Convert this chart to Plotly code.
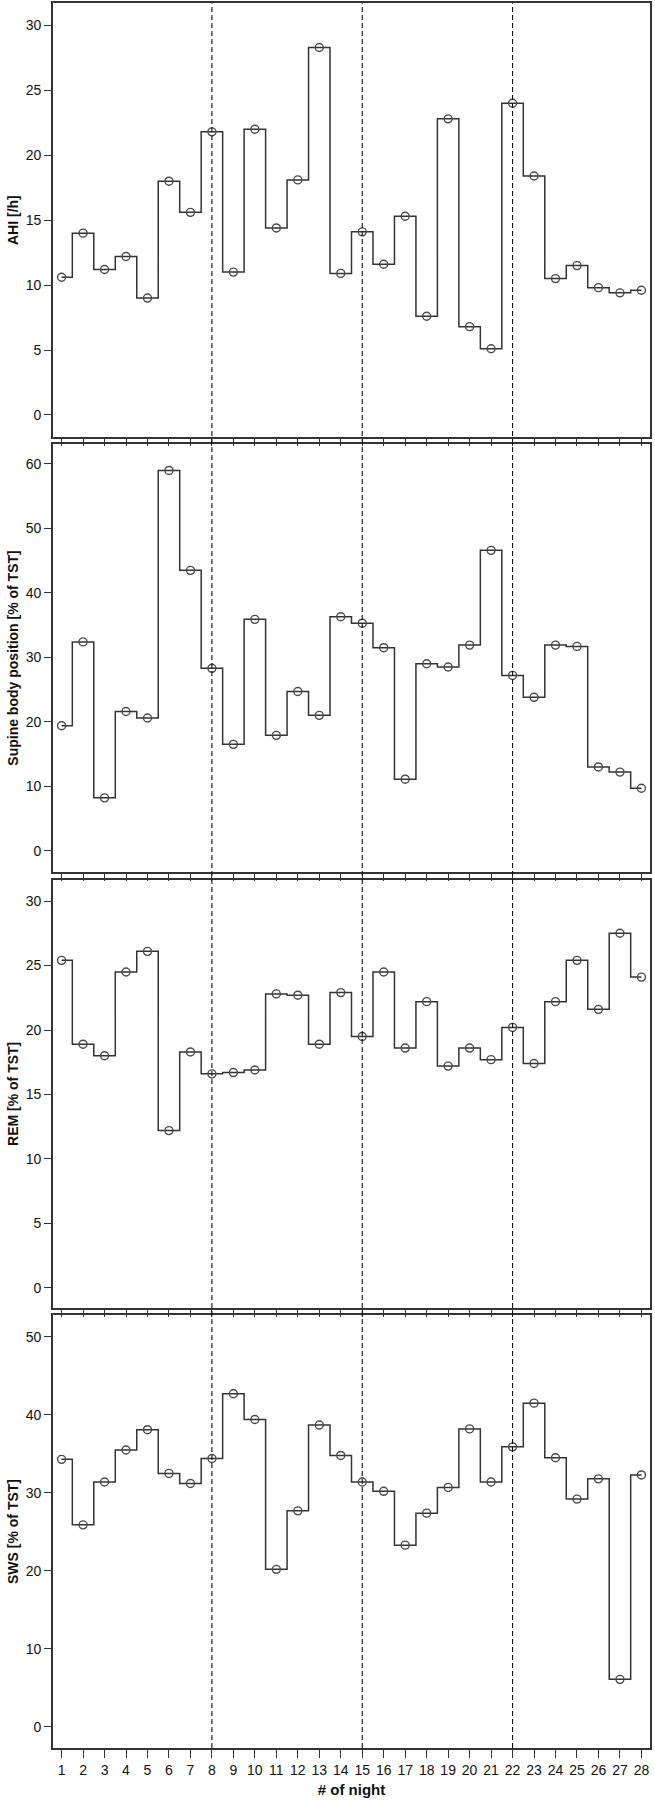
import plotly.graph_objects as go

nights = list(range(1, 29))
tick_labels = [str(n) for n in nights]
week_boundaries = [8, 15, 22]

ahi = [10.6, 14.0, 11.2, 12.2, 9.0, 18.0, 15.6, 21.8, 11.0, 22.0, 14.4, 18.1, 28.3, 10.9,
       14.1, 11.6, 15.3, 7.6, 22.8, 6.8, 5.1, 24.0, 18.4, 10.5, 11.5, 9.8, 9.4, 9.6]
supine = [19.4, 32.4, 8.2, 21.6, 20.6, 59.0, 43.5, 28.3, 16.5, 35.9, 17.9, 24.7, 21.0, 36.3,
          35.3, 31.5, 11.1, 29.0, 28.5, 31.9, 46.6, 27.2, 23.8, 31.9, 31.7, 13.0, 12.2, 9.7]
rem = [25.4, 18.9, 18.0, 24.5, 26.1, 12.2, 18.3, 16.6, 16.7, 16.9, 22.8, 22.7, 18.9, 22.9,
       19.5, 24.5, 18.6, 22.2, 17.2, 18.6, 17.7, 20.2, 17.4, 22.2, 25.4, 21.6, 27.5, 24.1]
sws = [34.3, 25.9, 31.4, 35.5, 38.1, 32.5, 31.2, 34.4, 42.7, 39.4, 20.2, 27.7, 38.7, 34.8,
       31.4, 30.2, 23.3, 27.4, 30.7, 38.2, 31.4, 35.9, 41.5, 34.5, 29.2, 31.8, 6.1, 32.3]

series = [ahi, supine, rem, sws]
y_titles = ["AHI [/h]", "Supine body position [% of TST]", "REM [% of TST]", "SWS [% of TST]"]
y_ranges = [[-1.7, 31.7], [-3.3, 63.1], [-1.53, 31.63], [-2.7, 52.8]]
y_dtick = [5, 10, 5, 10]

W, H = 655, 1802
mt, mb = 3, 54
plot_h = H - mt - mb
# panel pixel extents (top, bottom) in page coords
panels_px = [(3.3, 437), (444, 872), (880, 1307.7), (1315, 1748)]

def to_paper(ypx):
    return 1 - (ypx - mt) / plot_h

fig = go.Figure()
font_fam = "Liberation Sans, Arial, sans-serif"
line_col = "#333333"

for i, vals in enumerate(series):
    k = "" if i == 0 else str(i + 1)
    fig.add_trace(go.Scatter(
        x=nights, y=vals, mode="lines+markers",
        line=dict(shape="hvh", color=line_col, width=1.5),
        marker=dict(symbol="circle-open", size=8, color="#4a4a4a", line=dict(width=1.4)),
        xaxis="x" + k, yaxis="y" + k, showlegend=False,
    ))
    top, bot = panels_px[i]
    last = (i == 3)
    fig.update_layout(**{
        "xaxis" + k: dict(
            domain=[0, 1], anchor="y" + k, range=[0.6, 28.4],
            tickmode="array", tickvals=nights, ticktext=tick_labels,
            showticklabels=last, ticks="outside", ticklen=8 if last else 7,
            tickwidth=1.4, tickcolor=line_col,
            showline=True, linecolor=line_col, linewidth=1.6, mirror=True,
            showgrid=False, zeroline=False,
            tickfont=dict(family=font_fam, size=14, color="#111"),
            title=dict(text="<b># of night</b>", font=dict(family=font_fam, size=15, color="#111"),
                       standoff=8) if last else None,
        ),
        "yaxis" + k: dict(
            domain=[to_paper(bot), to_paper(top)], anchor="x" + k, range=y_ranges[i],
            dtick=y_dtick[i], tick0=0, ticks="outside", ticklen=7, tickwidth=1.4,
            tickcolor=line_col, showline=True, linecolor=line_col, linewidth=1.6,
            mirror=True, showgrid=False, zeroline=False,
            tickfont=dict(family=font_fam, size=14, color="#111"),
            title=dict(text="<b>" + y_titles[i] + "</b>",
                       font=dict(family=font_fam, size=14, color="#111"), standoff=4),
        ),
    })

for xb in week_boundaries:
    fig.add_shape(type="line", xref="x", yref="paper", x0=xb, x1=xb,
                  y0=0, y1=to_paper(3.3),
                  line=dict(color="#111", width=1.1, dash="5px,3px"), layer="above")

fig.update_layout(
    width=W, height=H,
    margin=dict(l=53, r=5, t=mt, b=mb),
    paper_bgcolor="white", plot_bgcolor="white",
    font=dict(family=font_fam, color="#111"),
)

fig.write_html("out.html", config={"displayModeBar": False},
               post_script="document.body.style.margin='0';document.body.style.overflow='hidden';")
